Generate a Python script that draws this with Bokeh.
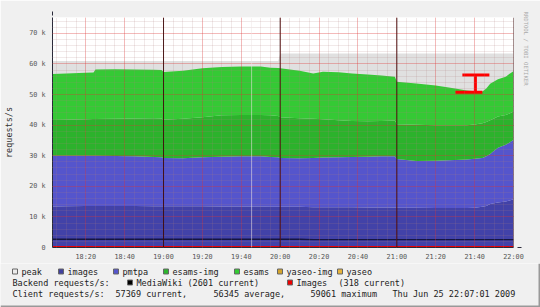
from bokeh.plotting import figure
from bokeh.layouts import column
from bokeh.models import (Range1d, FixedTicker, Span, ColumnDataSource, Arrow,
                          NormalHead, Title)
from bokeh.core.properties import value
from bokeh.embed import file_html
from bokeh.resources import INLINE

FONT = "DejaVu Sans Mono"

# ---------------- data (minutes after 18:00, values in k requests/s) -------------
minutes = [3, 10, 20, 24, 25, 35, 45, 55, 59, 60, 70, 80, 90, 100, 110, 115, 119,
           120, 130, 137, 142, 150, 157, 165, 172, 179, 180, 190, 200, 210, 216,
           220, 224, 226, 228, 230, 232, 234, 236, 238, 240]
peak = [61.0, 61.0, 61.0, 61.0, 61.0, 61.0, 61.0, 61.0, 61.0, 61.0, 61.0, 61.0,
        61.0, 61.0, 61.0, 61.0, 61.0,
        63.4, 63.4, 63.4, 63.4, 63.4, 63.4, 63.4, 63.4, 63.4, 63.4, 63.4, 63.4,
        63.4, 63.4, 63.4, 63.4, 63.4, 63.4, 63.4, 63.4, 63.4, 63.4, 63.4, 63.4]
images = [13.4, 13.5, 13.6, 13.6, 13.6, 13.6, 13.6, 13.5, 13.5, 13.5, 13.5, 13.5,
          13.4, 13.4, 13.4, 13.3, 13.3, 13.3, 13.3, 13.2, 13.2, 13.2, 13.2, 13.1,
          13.1, 13.1, 13.0, 13.0, 12.9, 12.9, 12.9, 13.0, 13.3, 13.6, 14.2, 14.5,
          14.7, 14.9, 15.0, 15.4, 15.8]
pmtpa = [16.6, 16.5, 16.4, 16.4, 16.4, 16.3, 16.2, 16.1, 16.0, 15.8, 15.7, 16.0,
         16.3, 16.4, 16.4, 16.3, 16.2, 16.0, 15.9, 16.1, 16.2, 16.3, 16.4, 16.6,
         16.7, 16.7, 15.9, 15.3, 15.5, 15.7, 15.9, 16.0, 16.0, 16.2, 16.4, 17.1,
         17.9, 18.2, 18.6, 18.9, 19.4]
esams_img = [11.7, 11.8, 11.9, 12.0, 12.0, 12.2, 12.4, 12.7, 12.7, 12.5, 12.9, 13.1,
             13.5, 13.5, 13.5, 13.6, 13.5, 13.3, 13.1, 12.8, 12.5, 12.1, 11.8, 11.6,
             11.6, 11.7, 11.4, 11.8, 11.6, 11.4, 11.2, 11.2, 11.3, 11.2, 11.0, 10.6,
             10.2, 10.0, 9.7, 9.5, 9.3]
esams = [15.0, 15.1, 15.2, 15.2, 16.2, 16.2, 16.0, 15.8, 15.8, 15.6, 15.7, 16.0,
         15.8, 15.9, 15.9, 15.6, 15.7, 16.0, 15.5, 14.8, 15.6, 15.7, 15.5, 15.3,
         14.8, 14.3, 13.9, 13.5, 13.0, 12.0, 11.3, 10.9, 10.4, 11.0, 11.9, 12.1,
         12.2, 12.3, 12.5, 13.0, 13.1]
mediawiki = [2.7, 2.7, 2.7, 2.7, 2.7, 2.7, 2.7, 2.7, 2.7, 2.7, 2.7, 2.7,
             2.7, 2.7, 2.7, 2.7, 2.7, 2.7, 2.7, 2.6, 2.6, 2.6, 2.6, 2.6,
             2.6, 2.6, 2.6, 2.6, 2.6, 2.6, 2.6, 2.6, 2.6, 2.6, 2.6, 2.6,
             2.6, 2.6, 2.6, 2.6, 2.6]
images_backend = [0.32, 0.32, 0.32, 0.32, 0.32, 0.32, 0.32, 0.32, 0.32, 0.32, 0.32,
                  0.32, 0.32, 0.32, 0.32, 0.32, 0.32, 0.32, 0.32, 0.32, 0.32, 0.32,
                  0.32, 0.32, 0.32, 0.32, 0.32, 0.32, 0.32, 0.32, 0.32, 0.32, 0.32,
                  0.32, 0.32, 0.32, 0.32, 0.32, 0.32, 0.32, 0.32]

x_tick_minutes = [20, 40, 60, 80, 100, 120, 140, 160, 180, 200, 220, 240]
x_tick_labels = ["18:20", "18:40", "19:00", "19:20", "19:40", "20:00", "20:20",
                 "20:40", "21:00", "21:20", "21:40", "22:00"]
y_tick_values = [0, 10, 20, 30, 40, 50, 60, 70]
y_tick_labels = ["0", "10 k", "20 k", "30 k", "40 k", "50 k", "60 k", "70 k"]

hour_rules = [60, 120, 180, 240]
gap_rules = [105.3]

# red marker ("I" shape)
marker_x0 = [213.7, 220.4, 210.1]
marker_x1 = [227.6, 220.4, 224.0]
marker_y0 = [56.4, 50.8, 50.8]
marker_y1 = [56.4, 56.4, 50.8]

legend_labels = ["peak", "images", "pmtpa", "esams-img", "esams", "yaseo-img", "yaseo"]
legend_colors = ["#ececec", "#40409e", "#5555cc", "#2cb52c", "#33cc33", "#d4a42c", "#e8b43a"]

mediawiki_current = 2601
images_current = 318
client_current = 57369
client_average = 56345
client_maximum = 59061
timestamp = "Thu Jun 25 22:07:01 2009"

# ---------------- main chart ---------------------------------------------------
W = 540
H_MAIN = 263
H_LEG = 307 - H_MAIN
L, R, T, B = 52, 27, 17, 15
FH = H_MAIN - T - B

p = figure(width=W, height=H_MAIN, x_range=Range1d(2.9, 240), y_range=Range1d(0, 75.2),
           output_backend="svg", toolbar_location=None,
           min_border_left=L, min_border_right=R, min_border_top=T, min_border_bottom=B,
           background_fill_color="#ffffff", border_fill_color="#f0f0f0",
           outline_line_color=None)

src = ColumnDataSource(dict(t=minutes, peak=peak, images=images, pmtpa=pmtpa,
                            esams_img=esams_img, esams=esams, mediawiki=mediawiki,
                            images_backend=images_backend))

p.varea(x="t", y1=0, y2="peak", source=src, fill_color="#e0e0e0")
p.varea_stack(["images", "pmtpa", "esams_img", "esams"], x="t", source=src,
              color=["#4242a8", "#5555cc", "#2cb22c", "#35c935"])
p.line(x="t", y="mediawiki", source=src, line_color="#151540", line_width=1.3)
p.line(x="t", y="images_backend", source=src, line_color="#ee0000", line_width=1)

p.segment(x0=marker_x0, y0=marker_y0, x1=marker_x1, y1=marker_y1,
          line_color="#ff0000", line_width=3)

p.xaxis.ticker = FixedTicker(ticks=x_tick_minutes, minor_ticks=list(range(5, 241, 5)))
p.yaxis.ticker = FixedTicker(ticks=y_tick_values, minor_ticks=list(range(2, 76, 2)))
p.xaxis.major_label_overrides = dict(zip(x_tick_minutes, x_tick_labels))
p.yaxis.major_label_overrides = dict(zip(y_tick_values, y_tick_labels))
for ax in (p.xaxis, p.yaxis):
    ax.major_tick_out = 0
    ax.major_tick_in = 0
    ax.minor_tick_out = 0
    ax.minor_tick_in = 0
    ax.axis_line_color = "#2a2a3a"
    ax.major_label_text_font = FONT
    ax.major_label_text_font_size = "6.8px"
    ax.major_label_text_color = "#555555"
p.xaxis.major_label_standoff = 5
p.yaxis.major_label_standoff = 7
p.yaxis.axis_label = "requests/s"
p.yaxis.axis_label_text_font = FONT
p.yaxis.axis_label_text_font_size = "8.5px"
p.yaxis.axis_label_text_font_style = "normal"
p.yaxis.axis_label_text_color = "#333333"
p.yaxis.axis_label_standoff = 12

for g in (p.xgrid, p.ygrid):
    g.level = "overlay"
    g.grid_line_color = "#ff0000"
    g.grid_line_alpha = 0.2
    g.minor_grid_line_color = "#b08080"
    g.minor_grid_line_alpha = 0.35
    g.minor_grid_line_dash = "1 1"

for h in hour_rules:
    p.add_layout(Span(location=h, dimension="height", line_color="#3a0a0a",
                      line_alpha=0.9, line_width=1, level="overlay"))
for g in gap_rules:
    p.add_layout(Span(location=g, dimension="height", line_color="#ffffff",
                      line_alpha=0.45, line_width=1, level="overlay"))

p.add_layout(Arrow(x_start=0, y_start=FH, x_end=0, y_end=FH + 5, start_units="screen",
                   end_units="screen", line_color="#2a2a3a", line_width=1,
                   end=NormalHead(size=4, fill_color="#a00000", line_color="#a00000")))
p.add_layout(Arrow(x_start=W - L - R, y_start=0, x_end=W - L - R + 8, y_end=0,
                   start_units="screen", end_units="screen", line_color="#2a2a3a",
                   line_width=1,
                   end=NormalHead(size=4, fill_color="#a00000", line_color="#a00000")))

p.add_layout(Title(text="RRDTOOL / TOBI OETIKER", align="left", offset=-6,
                   text_font=FONT, text_font_size="5.6px", text_color="#a8a8a8",
                   text_font_style="normal", standoff=19), "right")

# ---------------- legend strip (canvas pixel coordinates) ---------------------
q = figure(width=W, height=H_LEG, x_range=Range1d(0, W), y_range=Range1d(307, H_MAIN),
           output_backend="svg", toolbar_location=None, x_axis_type=None,
           y_axis_type=None, min_border=0, min_border_left=0, min_border_right=0,
           min_border_top=0, min_border_bottom=0, background_fill_color="#f0f0f0",
           border_fill_color="#f0f0f0", outline_line_color=None)
q.grid.visible = False

for fig in (p, q):
    try:
        fig.frame_align = False
    except Exception:
        pass

row1_x = [12, 58, 113, 163, 234, 277, 337]
box_x = list(row1_x) + [127, 287]
box_y = [271] * 7 + [282, 282]
box_c = list(legend_colors) + ["#000000", "#ee0000"]
q.quad(left=[x for x in box_x], right=[x + 5 for x in box_x],
       top=[y - 2.5 for y in box_y], bottom=[y + 2.5 for y in box_y],
       fill_color=box_c, line_color="#666666", line_width=1)

tx = [x + 9 for x in row1_x] + [12, 136, 187, 296, 338] + [12, 115, 213, 310, 392]
ty = [271] * 7 + [282] * 5 + [293] * 5
tt = list(legend_labels) + [
    "Backend requests/s:", "MediaWiki", "(%d current)" % mediawiki_current,
    "Images", "(%d current)" % images_current,
    "Client requests/s:", "%d current," % client_current,
    "%d average," % client_average, "%d maximum" % client_maximum, timestamp]
q.text(x=tx, y=ty, text=tt, text_font=value(FONT), text_font_size=value("8.5px"),
       text_color="#222222", text_baseline="middle", text_align="left")

# 3D frame edges
q.quad(left=[0, W - 2], right=[W, W], top=[305, H_MAIN], bottom=[307, 307],
       fill_color="#999999", line_color=None)

open("out.html", "w").write(file_html(column(p, q, spacing=0), INLINE))
